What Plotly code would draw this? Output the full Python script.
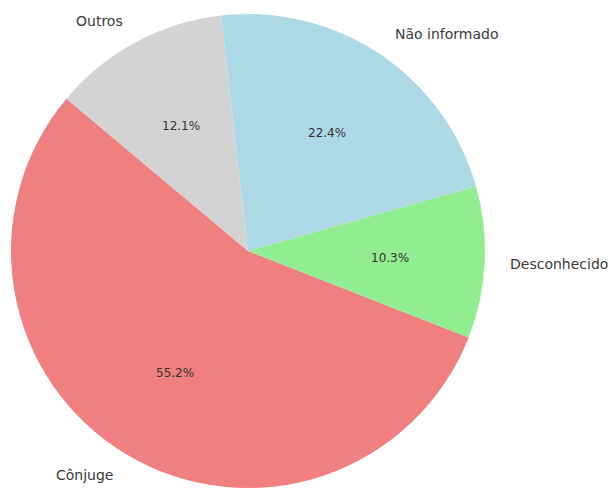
import math
import plotly.graph_objects as go

labels = ["Cônjuge", "Desconhecido", "Não informado", "Outros"]
counts = [32, 6, 13, 7]
colors = ["#F08080", "#90EE90", "#ADD8E6", "#D3D3D3"]
start_angle = 140  # degrees, counterclockwise from 3 o'clock

W, H = 612, 488
dom_x = [11 / W, 485 / W]
dom_y = [0.0, 474 / H]

total = sum(counts)
first_span = counts[0] / total * 360
# plotly (counterclockwise): rotation marks the boundary after the first slice,
# measured clockwise from 12 o'clock
rotation = 90 - (start_angle + first_span)

fig = go.Figure(go.Pie(
    labels=labels, values=counts, sort=False, direction="counterclockwise",
    rotation=rotation, marker=dict(colors=colors, line=dict(width=0)),
    textinfo="none", hoverinfo="label+percent", showlegend=False,
    domain=dict(x=dom_x, y=dom_y),
))

cx = (dom_x[0] + dom_x[1]) / 2 * W
cy = (dom_y[0] + dom_y[1]) / 2 * H
r = min((dom_x[1] - dom_x[0]) * W, (dom_y[1] - dom_y[0]) * H) / 2

ang = start_angle
font = "DejaVu Sans, Arial, sans-serif"
for lab, v in zip(labels, counts):
    span = v / total * 360
    mid = math.radians(ang + span / 2)
    ang += span
    lx = cx + 1.1 * r * math.cos(mid)
    ly = cy + 1.1 * r * math.sin(mid)
    fig.add_annotation(x=lx / W, y=ly / H, xref="paper", yref="paper",
                       text=lab, showarrow=False,
                       xanchor="left" if math.cos(mid) > 0 else "right",
                       yanchor="middle",
                       font=dict(family=font, size=14, color="#3a3a3a"))
    px = cx + 0.6 * r * math.cos(mid)
    py = cy + 0.6 * r * math.sin(mid)
    fig.add_annotation(x=px / W, y=py / H, xref="paper", yref="paper",
                       text=f"{v / total * 100:.1f}%", showarrow=False,
                       xanchor="center", yanchor="middle",
                       font=dict(family=font, size=12, color="#333333"))

fig.update_layout(width=W, height=H, margin=dict(l=0, r=0, t=0, b=0),
                  paper_bgcolor="white", plot_bgcolor="white")
fig.write_html(
    "out.html",
    config={"displayModeBar": False},
    post_script="document.body.style.margin='0';document.body.style.overflow='hidden';",
)
